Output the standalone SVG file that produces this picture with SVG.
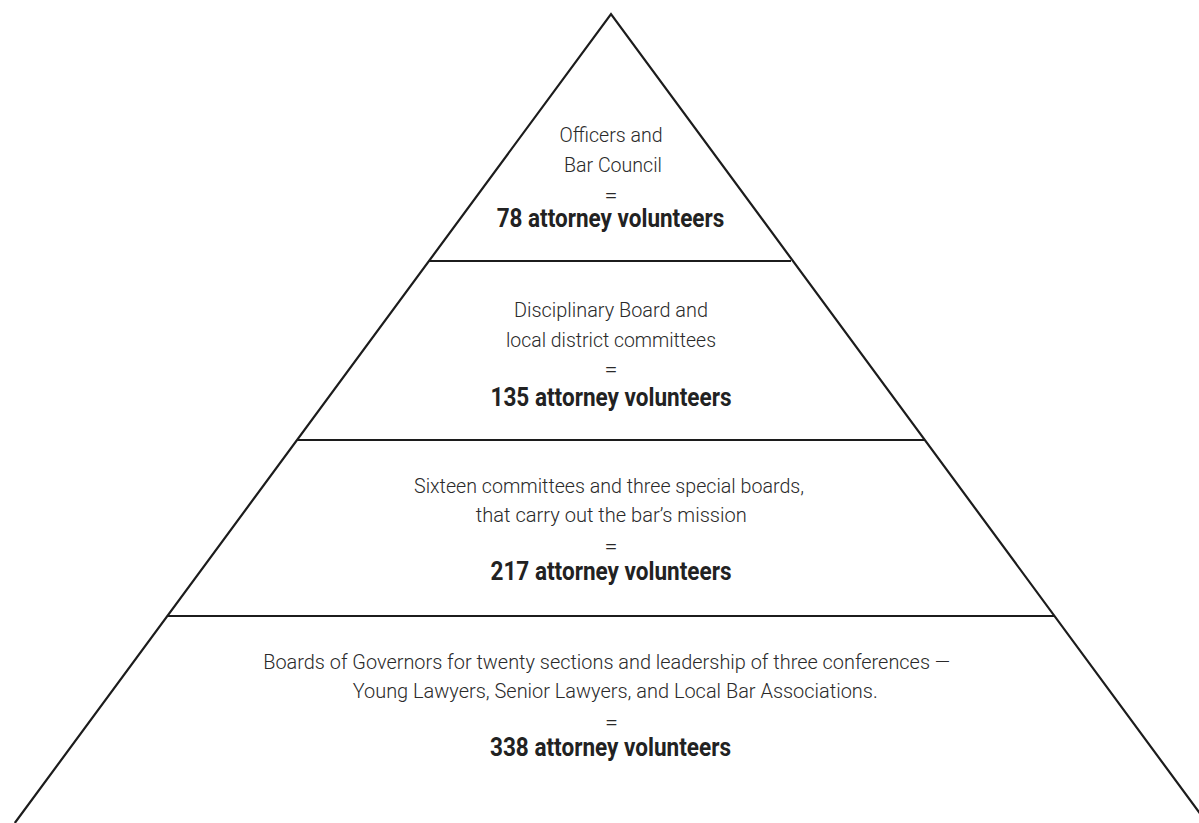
<svg xmlns="http://www.w3.org/2000/svg" width="1199" height="823" viewBox="0 0 1199 823">
  <style>
    .edge { fill: none; stroke: #1c1c1c; stroke-width: 2.2; stroke-linejoin: miter; }
    .t { font-family: Roboto, "Liberation Sans", sans-serif; font-weight: 300; font-size: 21px; fill: #2a2a2a; text-anchor: middle; }
    .eq { font-family: Roboto, "Liberation Sans", sans-serif; font-weight: 300; font-size: 20px; fill: #2a2a2a; text-anchor: middle; }
    .b { font-family: Roboto, "Liberation Sans", sans-serif; font-weight: 700; font-size: 25px; fill: #222; text-anchor: middle; }
  </style>
  <rect width="1199" height="823" fill="#fff"/>
  <g id="pyramid">
    <path class="edge" d="M14.8,823 L611,14 L1207,823"/>
    <line class="edge" x1="429" y1="261" x2="791" y2="261"/>
    <line class="edge" x1="297" y1="440" x2="925" y2="440"/>
    <line class="edge" x1="167.3" y1="616" x2="1054.7" y2="616"/>
  </g>
  <g id="tier-officers">
    <text class="t" x="611" y="142" textLength="103" lengthAdjust="spacingAndGlyphs">Officers and</text>
    <text class="t" x="613" y="172" textLength="98" lengthAdjust="spacingAndGlyphs">Bar Council</text>
    <text class="eq" x="611" y="202" textLength="13" lengthAdjust="spacingAndGlyphs">=</text>
    <text class="b" x="610.5" y="227" textLength="227.6" lengthAdjust="spacingAndGlyphs">78 attorney volunteers</text>
  </g>
  <g id="tier-disciplinary">
    <text class="t" x="611" y="317" textLength="194" lengthAdjust="spacingAndGlyphs">Disciplinary Board and</text>
    <text class="t" x="611" y="347" textLength="210" lengthAdjust="spacingAndGlyphs">local district committees</text>
    <text class="eq" x="611" y="376" textLength="13" lengthAdjust="spacingAndGlyphs">=</text>
    <text class="b" x="611" y="406" textLength="241" lengthAdjust="spacingAndGlyphs">135 attorney volunteers</text>
  </g>
  <g id="tier-committees">
    <text class="t" x="609" y="493" textLength="390" lengthAdjust="spacingAndGlyphs">Sixteen committees and three special boards,</text>
    <text class="t" x="611.3" y="522" textLength="271" lengthAdjust="spacingAndGlyphs">that carry out the bar’s mission</text>
    <text class="eq" x="611" y="553" textLength="13" lengthAdjust="spacingAndGlyphs">=</text>
    <text class="b" x="611" y="580" textLength="241" lengthAdjust="spacingAndGlyphs">217 attorney volunteers</text>
  </g>
  <g id="tier-sections">
    <text class="t" x="606.7" y="669" textLength="687" lengthAdjust="spacingAndGlyphs">Boards of Governors for twenty sections and leadership of three conferences —</text>
    <text class="t" x="615.2" y="698" textLength="525" lengthAdjust="spacingAndGlyphs">Young Lawyers, Senior Lawyers, and Local Bar Associations.</text>
    <text class="eq" x="611.5" y="729" textLength="13" lengthAdjust="spacingAndGlyphs">=</text>
    <text class="b" x="610.5" y="756" textLength="241" lengthAdjust="spacingAndGlyphs">338 attorney volunteers</text>
  </g>
</svg>
